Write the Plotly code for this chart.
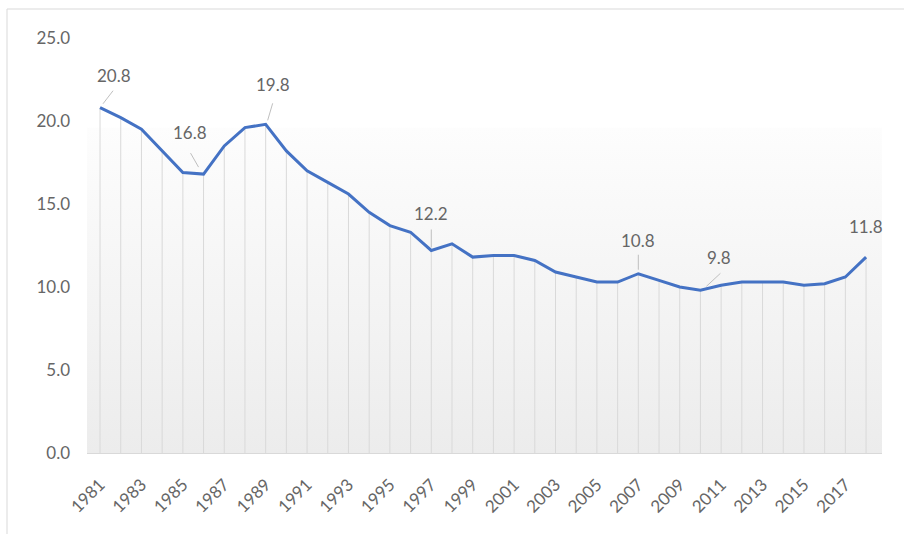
import plotly.graph_objects as go

years = list(range(1981, 2019))
values = [20.8, 20.2, 19.5, 18.2, 16.9, 16.8, 18.5, 19.6, 19.8, 18.2,
          17.0, 16.3, 15.6, 14.5, 13.7, 13.3, 12.2, 12.6, 11.8, 11.9,
          11.9, 11.6, 10.9, 10.6, 10.3, 10.3, 10.8, 10.4, 10.0, 9.8,
          10.1, 10.3, 10.3, 10.3, 10.1, 10.2, 10.6, 11.8]
tick_years = list(range(1981, 2018, 2))
tick_labels = [str(y) for y in tick_years]

# labelled points: year, label text
label_years = [1981, 1986, 1989, 1997, 2007, 2010, 2018]
label_texts = ["20.8", "16.8", "19.8", "12.2", "10.8", "9.8", "11.8"]

# styling (pixel offsets for labels and leader lines)
label_shift = {1981: (14, 32), 1986: (-14, 42), 1989: (7, 40), 1997: (0, 37),
               2007: (0, 33), 2010: (19, 33), 2018: (0, 31)}
leader = {1981: (3, 4, 13, 17), 1986: (-5, 7, -13, 21), 1989: (2, 4, 7, 21),
          1997: (0, 3, 0, 21), 2007: (0, 4, 0, 19), 2010: (6, 4, 20, 17)}

X_RANGE = [1980.37, 2018.77]
BG_TOP = 19.6
FONT = "Lato"
TXT = "#666666"

fig = go.Figure()

# gradient background band
fig.add_trace(go.Scatter(
    x=[X_RANGE[0], X_RANGE[1], X_RANGE[1], X_RANGE[0], X_RANGE[0]],
    y=[0, 0, BG_TOP, BG_TOP, 0],
    mode="lines", line=dict(width=0), fill="toself",
    fillgradient=dict(type="vertical", colorscale=[[0, "#ececec"], [1, "#fdfdfd"]]),
    hoverinfo="skip", showlegend=False))

# drop lines
dx, dy = [], []
for yr, v in zip(years, values):
    dx += [yr, yr, None]
    dy += [0, v, None]
fig.add_trace(go.Scatter(x=dx, y=dy, mode="lines",
                         line=dict(color="#d9d9d9", width=1),
                         hoverinfo="skip", showlegend=False))

# main line
fig.add_trace(go.Scatter(x=years, y=values, mode="lines",
                         line=dict(color="#4472C4", width=3),
                         showlegend=False))

for yr, txt in zip(label_years, label_texts):
    v = values[years.index(yr)]
    sx, sy = label_shift[yr]
    fig.add_annotation(x=yr, y=v, text=txt, showarrow=False,
                       xshift=sx, yshift=sy,
                       font=dict(family=FONT, size=17, color=TXT))
    if yr in leader:
        x0, y0, x1, y1 = leader[yr]
        fig.add_shape(type="line", xref="x", yref="y",
                      xsizemode="pixel", ysizemode="pixel",
                      xanchor=yr, yanchor=v,
                      x0=x0, y0=y0, x1=x1, y1=y1,
                      line=dict(color="#bfbfbf", width=1))

# outer border (top and left visible)
fig.add_shape(type="rect", xref="paper", yref="paper",
              x0=(7 - 87) / 795, x1=1.3, y0=-0.5, y1=(453 - 9) / 415,
              line=dict(color="#d9d9d9", width=1), layer="below")

fig.update_layout(
    width=904, height=534,
    margin=dict(l=87, r=22, t=38, b=81),
    paper_bgcolor="white", plot_bgcolor="white",
    font=dict(family=FONT, color=TXT),
    xaxis=dict(range=X_RANGE, tickmode="array", tickvals=tick_years,
               ticktext=tick_labels, tickangle=-45, showgrid=False,
               zeroline=False, showline=True, linecolor="#d9d9d9",
               linewidth=1, ticklabelstandoff=14,
               tickfont=dict(size=17, color=TXT)),
    yaxis=dict(range=[0, 25], tickmode="linear", tick0=0, dtick=5,
               tickformat=".1f", showgrid=False, zeroline=False,
               showline=False, ticklabelstandoff=16,
               tickfont=dict(size=17, color=TXT)),
)

fig.write_html("out.html")
